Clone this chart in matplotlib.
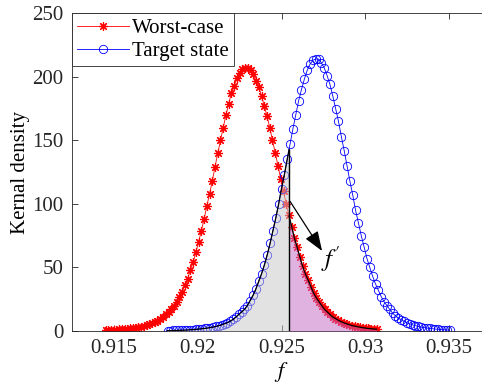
import numpy as np
import matplotlib
matplotlib.use('Agg')
import matplotlib.pyplot as plt

# kernel density of the worst case (red)
worst_x = [0.91450, 0.91466, 0.91483, 0.91499, 0.91515, 0.91532, 0.91548, 0.91564, 0.91581,
           0.91597, 0.91613, 0.91630, 0.91646, 0.91662, 0.91679, 0.91695, 0.91711, 0.91728,
           0.91744, 0.91760, 0.91777, 0.91793, 0.91809, 0.91826, 0.91842, 0.91858, 0.91875,
           0.91891, 0.91907, 0.91924, 0.91940, 0.91956, 0.91973, 0.91989, 0.92005, 0.92022,
           0.92038, 0.92054, 0.92071, 0.92087, 0.92103, 0.92120, 0.92136, 0.92152, 0.92169,
           0.92185, 0.92201, 0.92218, 0.92234, 0.92250, 0.92267, 0.92283, 0.92299, 0.92316,
           0.92332, 0.92348, 0.92365, 0.92381, 0.92397, 0.92414, 0.92430, 0.92446, 0.92463,
           0.92479, 0.92495, 0.92512, 0.92528, 0.92544, 0.92561, 0.92577, 0.92593, 0.92610,
           0.92626, 0.92642, 0.92659, 0.92675, 0.92691, 0.92708, 0.92724, 0.92740, 0.92757,
           0.92773, 0.92789, 0.92806, 0.92822, 0.92838, 0.92855, 0.92871, 0.92887, 0.92904,
           0.92920, 0.92936, 0.92953, 0.92969, 0.92985, 0.93002, 0.93018, 0.93034, 0.93051,
           0.93067]
worst_y = [0.6, 0.7, 0.8, 0.9, 1.1, 1.2, 1.4, 1.6, 1.8, 2.1, 2.4, 2.7, 3.1, 3.5, 4.0, 4.6, 5.3,
           6.1, 7.1, 8.2, 9.5, 11, 13, 15, 17, 20, 23, 27, 31, 36, 41, 48, 54, 62, 70, 79, 88,
           98, 108, 118, 129, 140, 150, 160, 170, 179, 187, 193, 199, 203, 206, 207, 207, 205,
           202, 197, 192, 185, 177, 169, 160, 150, 140, 130, 120, 110, 100, 91, 82, 73, 66, 58,
           51, 45, 40, 35, 30, 26, 23, 20, 17, 15, 13, 11, 9.8, 8.5, 7.4, 6.5, 5.7, 5.0, 4.3,
           3.8, 3.4, 3.0, 2.6, 2.3, 2.0, 1.8, 1.6, 1.4]

# kernel density of the target state (blue)
target_x = [0.91820, 0.91837, 0.91854, 0.91871, 0.91888, 0.91905, 0.91922, 0.91939, 0.91956,
            0.91973, 0.91990, 0.92007, 0.92024, 0.92041, 0.92058, 0.92075, 0.92092, 0.92109,
            0.92126, 0.92143, 0.92160, 0.92177, 0.92194, 0.92211, 0.92228, 0.92245, 0.92262,
            0.92279, 0.92296, 0.92313, 0.92330, 0.92347, 0.92364, 0.92381, 0.92398, 0.92415,
            0.92432, 0.92449, 0.92466, 0.92483, 0.92500, 0.92517, 0.92534, 0.92551, 0.92568,
            0.92585, 0.92602, 0.92619, 0.92636, 0.92653, 0.92670, 0.92687, 0.92704, 0.92721,
            0.92738, 0.92755, 0.92772, 0.92789, 0.92806, 0.92823, 0.92840, 0.92857, 0.92874,
            0.92891, 0.92908, 0.92925, 0.92942, 0.92959, 0.92976, 0.92993, 0.93010, 0.93027,
            0.93044, 0.93061, 0.93078, 0.93095, 0.93112, 0.93129, 0.93146, 0.93163, 0.93180,
            0.93197, 0.93214, 0.93231, 0.93248, 0.93265, 0.93282, 0.93299, 0.93316, 0.93333,
            0.93350, 0.93367, 0.93384, 0.93401, 0.93418, 0.93435, 0.93452, 0.93469, 0.93486,
            0.93503]
target_y = [0.3, 0.3, 0.4, 0.4, 0.5, 0.6, 0.7, 0.8, 1.0, 1.1, 1.3, 1.5, 1.8, 2.0, 2.3, 2.7, 3.1,
            3.6, 4.2, 4.9, 5.7, 6.6, 7.7, 9.1, 11, 13, 15, 17, 20, 24, 28, 33, 39, 45, 52, 60,
            69, 79, 89, 100, 112, 123, 135, 147, 159, 170, 181, 190, 198, 205, 210, 213, 214,
            214, 211, 207, 201, 194, 185, 175, 165, 153, 142, 130, 118, 107, 95, 85, 75, 66, 57,
            50, 43, 37, 32, 27, 23, 20, 17, 14, 12, 10, 8.9, 7.6, 6.5, 5.6, 4.8, 4.2, 3.6, 3.1,
            2.7, 2.4, 2.0, 1.8, 1.5, 1.3, 1.1, 1.0, 0.8, 0.7]

f_prime = 0.92545
x_ticks = [0.915, 0.92, 0.925, 0.93, 0.935]
x_tick_labels = ['0.915', '0.92', '0.925', '0.93', '0.935']
y_ticks = [0, 50, 100, 150, 200, 250]

plt.rcParams['font.family'] = ['Liberation Serif', 'DejaVu Serif']
plt.rcParams['mathtext.fontset'] = 'stix'
plt.rcParams['font.size'] = 15

fig = plt.figure(figsize=(4.82, 3.85), dpi=100)
ax = fig.add_axes([72 / 482, 54 / 385, 419 / 482, 317.7 / 385])

ax.plot(worst_x, worst_y, color='red', lw=0.6, marker=(8, 2, 0), ms=6.5, mew=0.85,
        label='Worst-case', zorder=2)
ax.plot(target_x, target_y, color='blue', lw=0.6, marker='o', ms=6, mfc='none', mew=0.6,
        label='Target state', zorder=2)

wx = np.array(worst_x)
wy = np.array(worst_y)
tx = np.array(target_x)
ty = np.array(target_y)

# area below target curve left of f'
h_target = np.interp(f_prime, tx, ty)
gx = np.append(tx[tx <= f_prime], f_prime)
gy = np.append(ty[tx <= f_prime], h_target)
ax.fill_between(gx, 0, gy, color=(0.78, 0.78, 0.78), alpha=0.5, lw=0, zorder=3)
ax.plot(gx, gy, color='k', lw=0.9, zorder=4)

# area below worst-case curve right of f'
h_worst = np.interp(f_prime, wx, wy)
mx = np.insert(wx[wx >= f_prime], 0, f_prime)
my = np.insert(wy[wx >= f_prime], 0, h_worst)
ax.fill_between(mx, 0, my, color=(0.76, 0.4, 0.76), alpha=0.5, lw=0, zorder=3)
ax.plot(mx, my, color='k', lw=0.9, zorder=4)

ax.plot([f_prime, f_prime], [0, h_target], color='k', lw=1.0, zorder=4)

ax.annotate('', xy=(0.92742, 63), xytext=(0.92551, 102),
            arrowprops=dict(arrowstyle='-|>,head_length=0.8,head_width=0.3',
                            color='k', lw=0.9, shrinkA=0, shrinkB=0), zorder=5)
ax.text(0.92795, 57, "$f'$", ha='center', va='center', fontsize=18)

ax.set_xlim(0.9125, 0.9375)
ax.set_ylim(0, 250)
ax.set_xticks(x_ticks)
ax.set_xticklabels(x_tick_labels)
ax.set_yticks(y_ticks)
ax.tick_params(direction='in', length=4, width=0.6, top=True, right=True,
               colors='#262626', labelcolor='#262626', pad=6)
for s in ax.spines.values():
    s.set_linewidth(0.6)
    s.set_color('#262626')

ax.set_xlabel('$f$', fontsize=16, labelpad=1)
ax.set_ylabel('Kernal density', labelpad=2)

leg = ax.legend(loc='upper left', borderaxespad=0, fancybox=False, framealpha=1,
                edgecolor='#262626', handlelength=2.5, handletextpad=0.15,
                borderpad=0.25, labelspacing=0.15)
leg.get_frame().set_linewidth(0.6)
leg.set_zorder(6)

fig.savefig('out.png', dpi=100)
